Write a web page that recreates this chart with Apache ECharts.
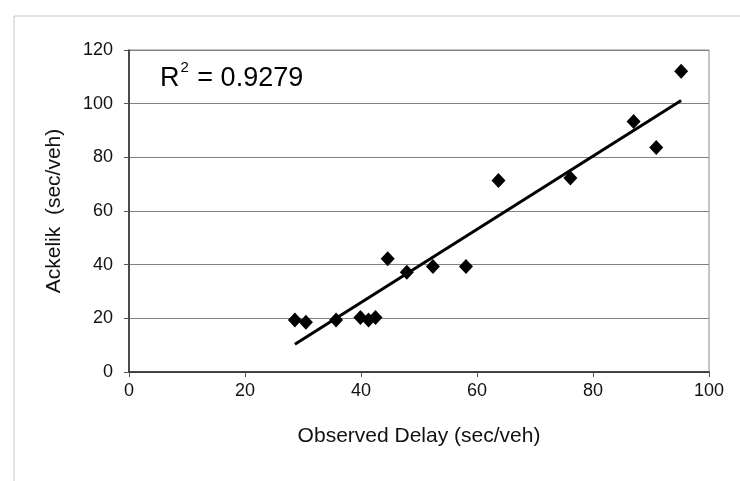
<!DOCTYPE html>
<html>
<head>
<meta charset="utf-8">
<script src="https://cdn.jsdelivr.net/npm/echarts@6/dist/echarts.min.js"></script>
<style>
  html, body { margin: 0; padding: 0; background: #ffffff; }
  #chart { width: 740px; height: 481px; }
</style>
</head>
<body>
<div id="chart"></div>
<script>
// Observed delay (sec/veh) vs Ackelik estimate (sec/veh)
const observedDelay = [28.6, 30.5, 35.7, 39.9, 41.3, 42.5, 44.6, 47.9, 52.4, 58.1, 63.7, 76.1, 87.0, 90.9, 95.2];
const ackelikDelay  = [19.4, 18.5, 19.4, 20.3, 19.4, 20.3, 42.2, 37.2, 39.3, 39.3, 71.4, 72.3, 93.4, 83.7, 112.1];
const xTicks = [0, 20, 40, 60, 80, 100];
const yTicks = [0, 20, 40, 60, 80, 100, 120];
const rSquaredText = '0.9279';
const xTitle = 'Observed Delay (sec/veh)';
const yTitle = 'Ackelik  (sec/veh)';

// least-squares linear trendline from the data
const n = observedDelay.length;
const mx = observedDelay.reduce((a, b) => a + b, 0) / n;
const my = ackelikDelay.reduce((a, b) => a + b, 0) / n;
let sxy = 0, sxx = 0;
for (let i = 0; i < n; i++) {
  sxy += (observedDelay[i] - mx) * (ackelikDelay[i] - my);
  sxx += (observedDelay[i] - mx) * (observedDelay[i] - mx);
}
const slope = sxy / sxx;
const intercept = my - slope * mx;
const xMin = Math.min(...observedDelay), xMax = Math.max(...observedDelay);
const trend = [[xMin, intercept + slope * xMin], [xMax, intercept + slope * xMax]];

const points = observedDelay.map((x, i) => [x, ackelikDelay[i]]);
const font = '"Liberation Sans", Arial, sans-serif';

const chart = echarts.init(document.getElementById('chart'), null, { renderer: 'canvas' });
chart.setOption({
  animation: false,
  backgroundColor: '#ffffff',
  grid: {
    left: 129, right: 31, top: 50, bottom: 109,
    show: true, borderColor: '#8a8a8a', borderWidth: 1, backgroundColor: 'transparent'
  },
  graphic: [
    {
      type: 'rect', shape: { x: 14, y: 16, width: 740, height: 480 },
      style: { fill: 'none', stroke: '#c8c8c8', lineWidth: 1 }, silent: true, z: -1
    },
    {
      type: 'text', left: 160, top: 60,
      style: {
        text: '{r|R}{s|2}{r| = ' + rSquaredText + '}',
        rich: {
          r: { fontFamily: font, fontSize: 27, fill: '#000', verticalAlign: 'bottom', lineHeight: 32 },
          s: { fontFamily: font, fontSize: 15, fill: '#000', verticalAlign: 'top', lineHeight: 32, padding: [0, 1, 13, 1] }
        }
      }
    }
  ],
  xAxis: {
    type: 'value', min: xTicks[0], max: xTicks[xTicks.length - 1], interval: 20,
    name: xTitle, nameLocation: 'middle', nameGap: 54,
    nameTextStyle: { fontFamily: font, fontSize: 21, color: '#111' },
    axisLine: { show: true, lineStyle: { color: '#222', width: 1.5 } },
    axisTick: { show: true, length: 5, inside: false, lineStyle: { color: '#555' } },
    axisLabel: { fontFamily: font, fontSize: 18, color: '#111', margin: 10 },
    splitLine: { show: false }
  },
  yAxis: {
    type: 'value', min: yTicks[0], max: yTicks[yTicks.length - 1], interval: 20,
    name: yTitle, nameLocation: 'middle', nameGap: 64, nameRotate: 90,
    nameTextStyle: { fontFamily: font, fontSize: 21, color: '#111' },
    axisLine: { show: true, lineStyle: { color: '#222', width: 1.5 } },
    axisTick: { show: true, length: 5, inside: false, lineStyle: { color: '#555' } },
    axisLabel: { fontFamily: font, fontSize: 18, color: '#111', margin: 16 },
    splitLine: { show: true, lineStyle: { color: '#808080', width: 1 } }
  },
  series: [
    {
      type: 'scatter', data: points, symbol: 'diamond', symbolSize: [14, 15],
      itemStyle: { color: '#000', opacity: 1 }, z: 3
    },
    {
      type: 'line', data: trend, symbol: 'none', lineStyle: { color: '#000', width: 3 }, z: 4
    }
  ]
});
</script>
</body>
</html>
